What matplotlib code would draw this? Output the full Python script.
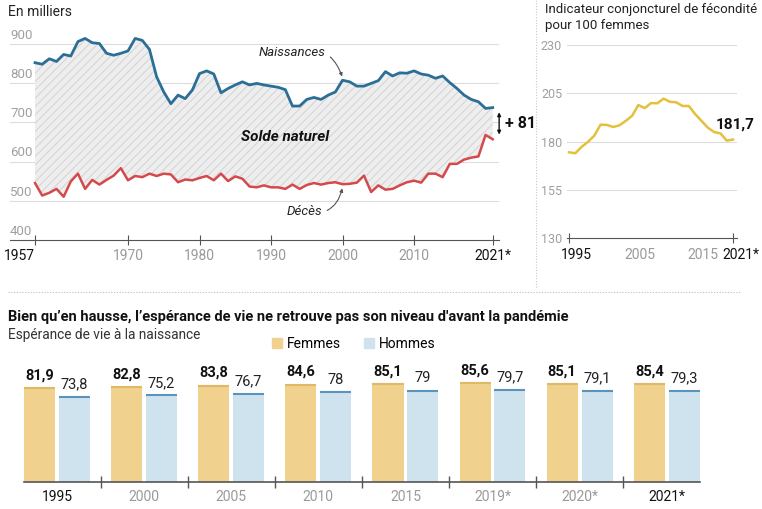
import matplotlib
matplotlib.use("Agg")
import matplotlib.pyplot as plt
from matplotlib.lines import Line2D
from matplotlib.patches import Patch
import numpy as np

plt.rcParams['font.family'] = ['Roboto', 'DejaVu Sans']
plt.rcParams['hatch.linewidth'] = 0.7

# --- data -------------------------------------------------------------
years = list(range(1957, 2022))
naissances = [853, 849, 863, 856, 874, 870, 907, 915, 904, 902,
              877, 872, 877, 883, 915, 910, 887, 817, 778, 748,
              770, 761, 783, 825, 832, 824, 776, 787, 796, 804,
              796, 800, 796, 793, 790, 784, 742, 742, 759, 764,
              759, 770, 778, 808, 804, 793, 793, 800, 807, 830,
              819, 827, 826, 832, 824, 821, 813, 819, 802, 787,
              770, 759, 753, 736, 738]
deces = [545, 513, 520, 530, 510, 549, 569, 530, 553, 541,
         553, 564, 583, 552, 563, 560, 569, 563, 569, 567,
         547, 554, 552, 558, 563, 552, 569, 550, 562, 556,
         536, 534, 539, 534, 534, 530, 541, 530, 540, 545,
         541, 545, 547, 542, 543, 546, 564, 522, 539, 528,
         530, 539, 547, 551, 546, 569, 569, 560, 594, 594,
         605, 610, 613, 668, 657]
left_ticks = [1957, 1970, 1980, 1990, 2000, 2010, 2021]
left_ticklabels = ['1957', '1970', '1980', '1990', '2000', '2010', '2021*']
left_grid = [400, 500, 600, 700, 800, 900]

fec_years = list(range(1995, 2022))
fecondite = [174.4, 173.9, 177.2, 179.8, 183.0, 188.7, 188.6, 187.5, 188.4,
             190.7, 193.3, 198.9, 197.3, 199.9, 199.8, 202.2, 200.6, 200.3,
             198.4, 198.4, 194.2, 190.7, 187.2, 184.9, 184.2, 180.5, 181.0]
fec_grid = [130, 155, 180, 205, 230]
fec_labels = [('1995', 1995), ('2005', 2005), ('2015', 2015), ('2021*', 2021)]

bar_labels = ['1995', '2000', '2005', '2010', '2015', '2019*', '2020*', '2021*']
femmes = [81.9, 82.8, 83.8, 84.6, 85.1, 85.6, 85.1, 85.4]
hommes = [73.8, 75.2, 76.7, 78, 79, 79.7, 79.1, 79.3]

BLUE = '#2b6e96'
RED = '#d44a4c'
YELLOW = '#e3c13b'
GRID = '#dcdcdc'
GREY_TXT = '#a0a0a0'
DARK = '#111111'

W, H = 762, 509


def fx(x):
    return x / W


def fy(y):
    return 1 - y / H


fig = plt.figure(figsize=(7.62, 5.09), dpi=100)

# --- left: naissances / décès ---------------------------------------------
ax = fig.add_axes([fx(10), fy(239.7), (499 - 10) / W, (239.7 - 30) / H])
ax.set_xlim(1953.5, 2021.88)
ax.set_ylim(400, 936.6)
for v in left_grid[1:]:
    ax.axhline(v, color=GRID, lw=0.8, zorder=0)
for v in left_grid:
    ax.annotate(str(v), (0, v), xycoords=('axes fraction', 'data'),
                xytext=(0, 1.5), textcoords='offset points',
                ha='left', va='bottom', color=GREY_TXT, fontsize=9.5)

ax.fill_between(years, deces, naissances, facecolor='#eeeeee',
                edgecolor='#d3d3d3', hatch='////', linewidth=0, zorder=1)
ax.plot(years, naissances, color=BLUE, lw=2, zorder=3)
ax.plot(years, deces, color=RED, lw=1.8, zorder=3)

for s in ['top', 'right', 'left']:
    ax.spines[s].set_visible(False)
ax.spines['bottom'].set_color('#555555')
ax.set_yticks([])
ax.set_xticks(left_ticks)
ax.set_xticklabels(left_ticklabels)
ax.tick_params(axis='x', direction='inout', length=7, color='#555555',
               labelsize=10, pad=3)
ticks = ax.xaxis.get_major_ticks()
for i, t in enumerate(ticks):
    if 0 < i < len(ticks) - 1:
        t.tick1line.set_color('#c8c8c8')
        t.label1.set_color('#9a9a9a')
    else:
        t.label1.set_color(DARK)
ticks[0].label1.set_horizontalalignment('right')

ax.annotate('Naissances', xy=(2000, 814), xytext=(1997.6, 880),
            ha='right', va='center', fontsize=9.5, style='italic', color='#222222',
            arrowprops=dict(arrowstyle='-|>', color='#555555', lw=0.8,
                            mutation_scale=5, shrinkA=2, shrinkB=1,
                            connectionstyle='arc3,rad=-0.5'))
ax.annotate('Décès', xy=(2000, 535), xytext=(1997.1, 471),
            ha='right', va='center', fontsize=9.5, style='italic', color='#222222',
            arrowprops=dict(arrowstyle='-|>', color='#555555', lw=0.8,
                            mutation_scale=5, shrinkA=2, shrinkB=1,
                            connectionstyle='arc3,rad=0.5'))
ax.text(1992, 663, 'Solde naturel', ha='center', va='center',
        fontsize=11, weight='bold', style='italic', color=DARK, zorder=4)

ax.annotate('', xy=(2021.9, naissances[-1] - 12), xytext=(2021.9, deces[-1] + 12),
            arrowprops=dict(arrowstyle='<|-|>', color=DARK, lw=1,
                            mutation_scale=5, shrinkA=0, shrinkB=0),
            annotation_clip=False)
ax.annotate('+ %d' % (naissances[-1] - deces[-1]),
            xy=(2021.9, (naissances[-1] + deces[-1]) / 2),
            xytext=(4, 0), textcoords='offset points', ha='left', va='center',
            fontsize=11.5, weight='bold', color=DARK, annotation_clip=False)

fig.text(fx(8), fy(12), 'En milliers', ha='left', va='center',
         fontsize=10, color='#222222')

# --- right: fécondité -----------------------------------------------------
ax2 = fig.add_axes([fx(567), fy(238), (737 - 567) / W, (238 - 45) / H])
ax2.set_xlim(1995 - 2 / 6.308, 2021 + 4 / 6.308)
ax2.set_ylim(130, 230)
for v in fec_grid[1:]:
    ax2.axhline(v, color=GRID, lw=0.8, zorder=0)
ax2.plot(fec_years, fecondite, color=YELLOW, lw=1.8, zorder=3)
for s in ['top', 'right', 'left']:
    ax2.spines[s].set_visible(False)
ax2.spines['bottom'].set_color('#555555')
ax2.set_yticks(fec_grid)
ax2.tick_params(axis='y', length=0, pad=3.5, labelcolor=GREY_TXT, labelsize=9)
ax2.set_xticks([1995, 2021])
ax2.set_xticklabels(['', ''])
ax2.tick_params(axis='x', direction='inout', length=7, color='#555555')
for lab, yr in fec_labels:
    col = DARK if yr in (1995, 2021) else '#9a9a9a'
    ax2.annotate(lab, (yr + 1.2, 0), xycoords=('data', 'axes fraction'),
                 xytext=(0, -7), textcoords='offset points', ha='center',
                 va='top', fontsize=10, color=col, annotation_clip=False)
ax2.annotate('181,7', (fec_years[-1], fecondite[-1]), xytext=(1.5, 11),
             textcoords='offset points', ha='center', va='center',
             fontsize=11, weight='bold', color=DARK, annotation_clip=False)

fig.text(fx(545), fy(10), 'Indicateur conjoncturel de fécondité', ha='left',
         va='center', fontsize=9.5, color='#222222')
fig.text(fx(545), fy(25.5), 'pour 100 femmes', ha='left', va='center',
         fontsize=9.5, color='#222222')

# separators
fig.add_artist(Line2D([fx(536), fx(536)], [fy(0), fy(289)], color='#c8c8c8',
                      lw=0.8, ls=(0, (1, 1.5))))
fig.add_artist(Line2D([fx(8), fx(740)], [fy(291.7), fy(291.7)], color='#bdbdbd',
                      lw=0.8, ls=(0, (1, 1.5))))

# --- bottom: espérance de vie ---------------------------------------------
fig.text(fx(8), fy(316.5),
         'Bien qu’en hausse, l’espérance de vie ne retrouve pas son niveau '
         "d'avant la pandémie", ha='left', va='center', fontsize=10.5,
         weight='bold', color=DARK)
fig.text(fx(8), fy(335), 'Espérance de vie à la naissance', ha='left',
         va='center', fontsize=9.8, color='#333333')

ax3 = fig.add_axes([fx(24), fy(481.7), (700 - 24) / W, (481.7 - 355) / H])
x = np.arange(len(bar_labels))
bw = 0.356
off = 0.2
F_COL, F_TOP = '#f0d18e', '#e2b865'
H_COL, H_TOP = '#cfe3ef', '#5b93bf'
ax3.bar(x - off, femmes, width=bw, color=F_COL, zorder=2)
ax3.bar(x + off, hommes, width=bw, color=H_COL, zorder=2)
ax3.hlines(femmes, x - off - bw / 2, x - off + bw / 2, color=F_TOP, lw=1.5, zorder=3)
ax3.hlines(hommes, x + off - bw / 2, x + off + bw / 2, color=H_TOP, lw=1.5, zorder=3)
for i in range(len(x)):
    ax3.annotate(('%.1f' % femmes[i]).replace('.', ','), (x[i] - off, femmes[i]),
                 xytext=(0, 4), textcoords='offset points', ha='center',
                 va='bottom', fontsize=10.5, weight='bold', color=DARK)
    hv = hommes[i]
    htxt = str(int(hv)) if hv == int(hv) else ('%.1f' % hv).replace('.', ',')
    ax3.annotate(htxt, (x[i] + off, hv), xytext=(0, 4), textcoords='offset points',
                 ha='center', va='bottom', fontsize=10.5, color='#222222')
    col = DARK if i in (0, len(x) - 1) else '#9a9a9a'
    ax3.annotate(bar_labels[i], (x[i], 0), xytext=(0, -6),
                 textcoords='offset points', ha='center', va='top',
                 fontsize=10, color=col, annotation_clip=False)

ax3.set_xlim(-0.379, len(x) - 1 + 0.382)
ax3.set_ylim(0, 110.4)
for s in ['top', 'right', 'left']:
    ax3.spines[s].set_visible(False)
ax3.spines['bottom'].set_color('#555555')
ax3.spines['bottom'].set_linewidth(1.2)
ax3.set_yticks([])
ax3.set_xticks(x[:-1] + 0.5)
ax3.set_xticklabels([''] * (len(x) - 1))
ax3.tick_params(axis='x', direction='inout', length=9, color='#555555', width=1)

fig.legend(handles=[Patch(color=F_COL), Patch(color=H_COL)],
           labels=['Femmes', 'Hommes'], loc='center left',
           bbox_to_anchor=(fx(272), fy(343.5)), ncol=2, frameon=False,
           handlelength=0.75, handleheight=0.75, columnspacing=1.6,
           handletextpad=0.35, fontsize=10, borderpad=0, borderaxespad=0)

fig.savefig('out.png', dpi=100, facecolor='white')
